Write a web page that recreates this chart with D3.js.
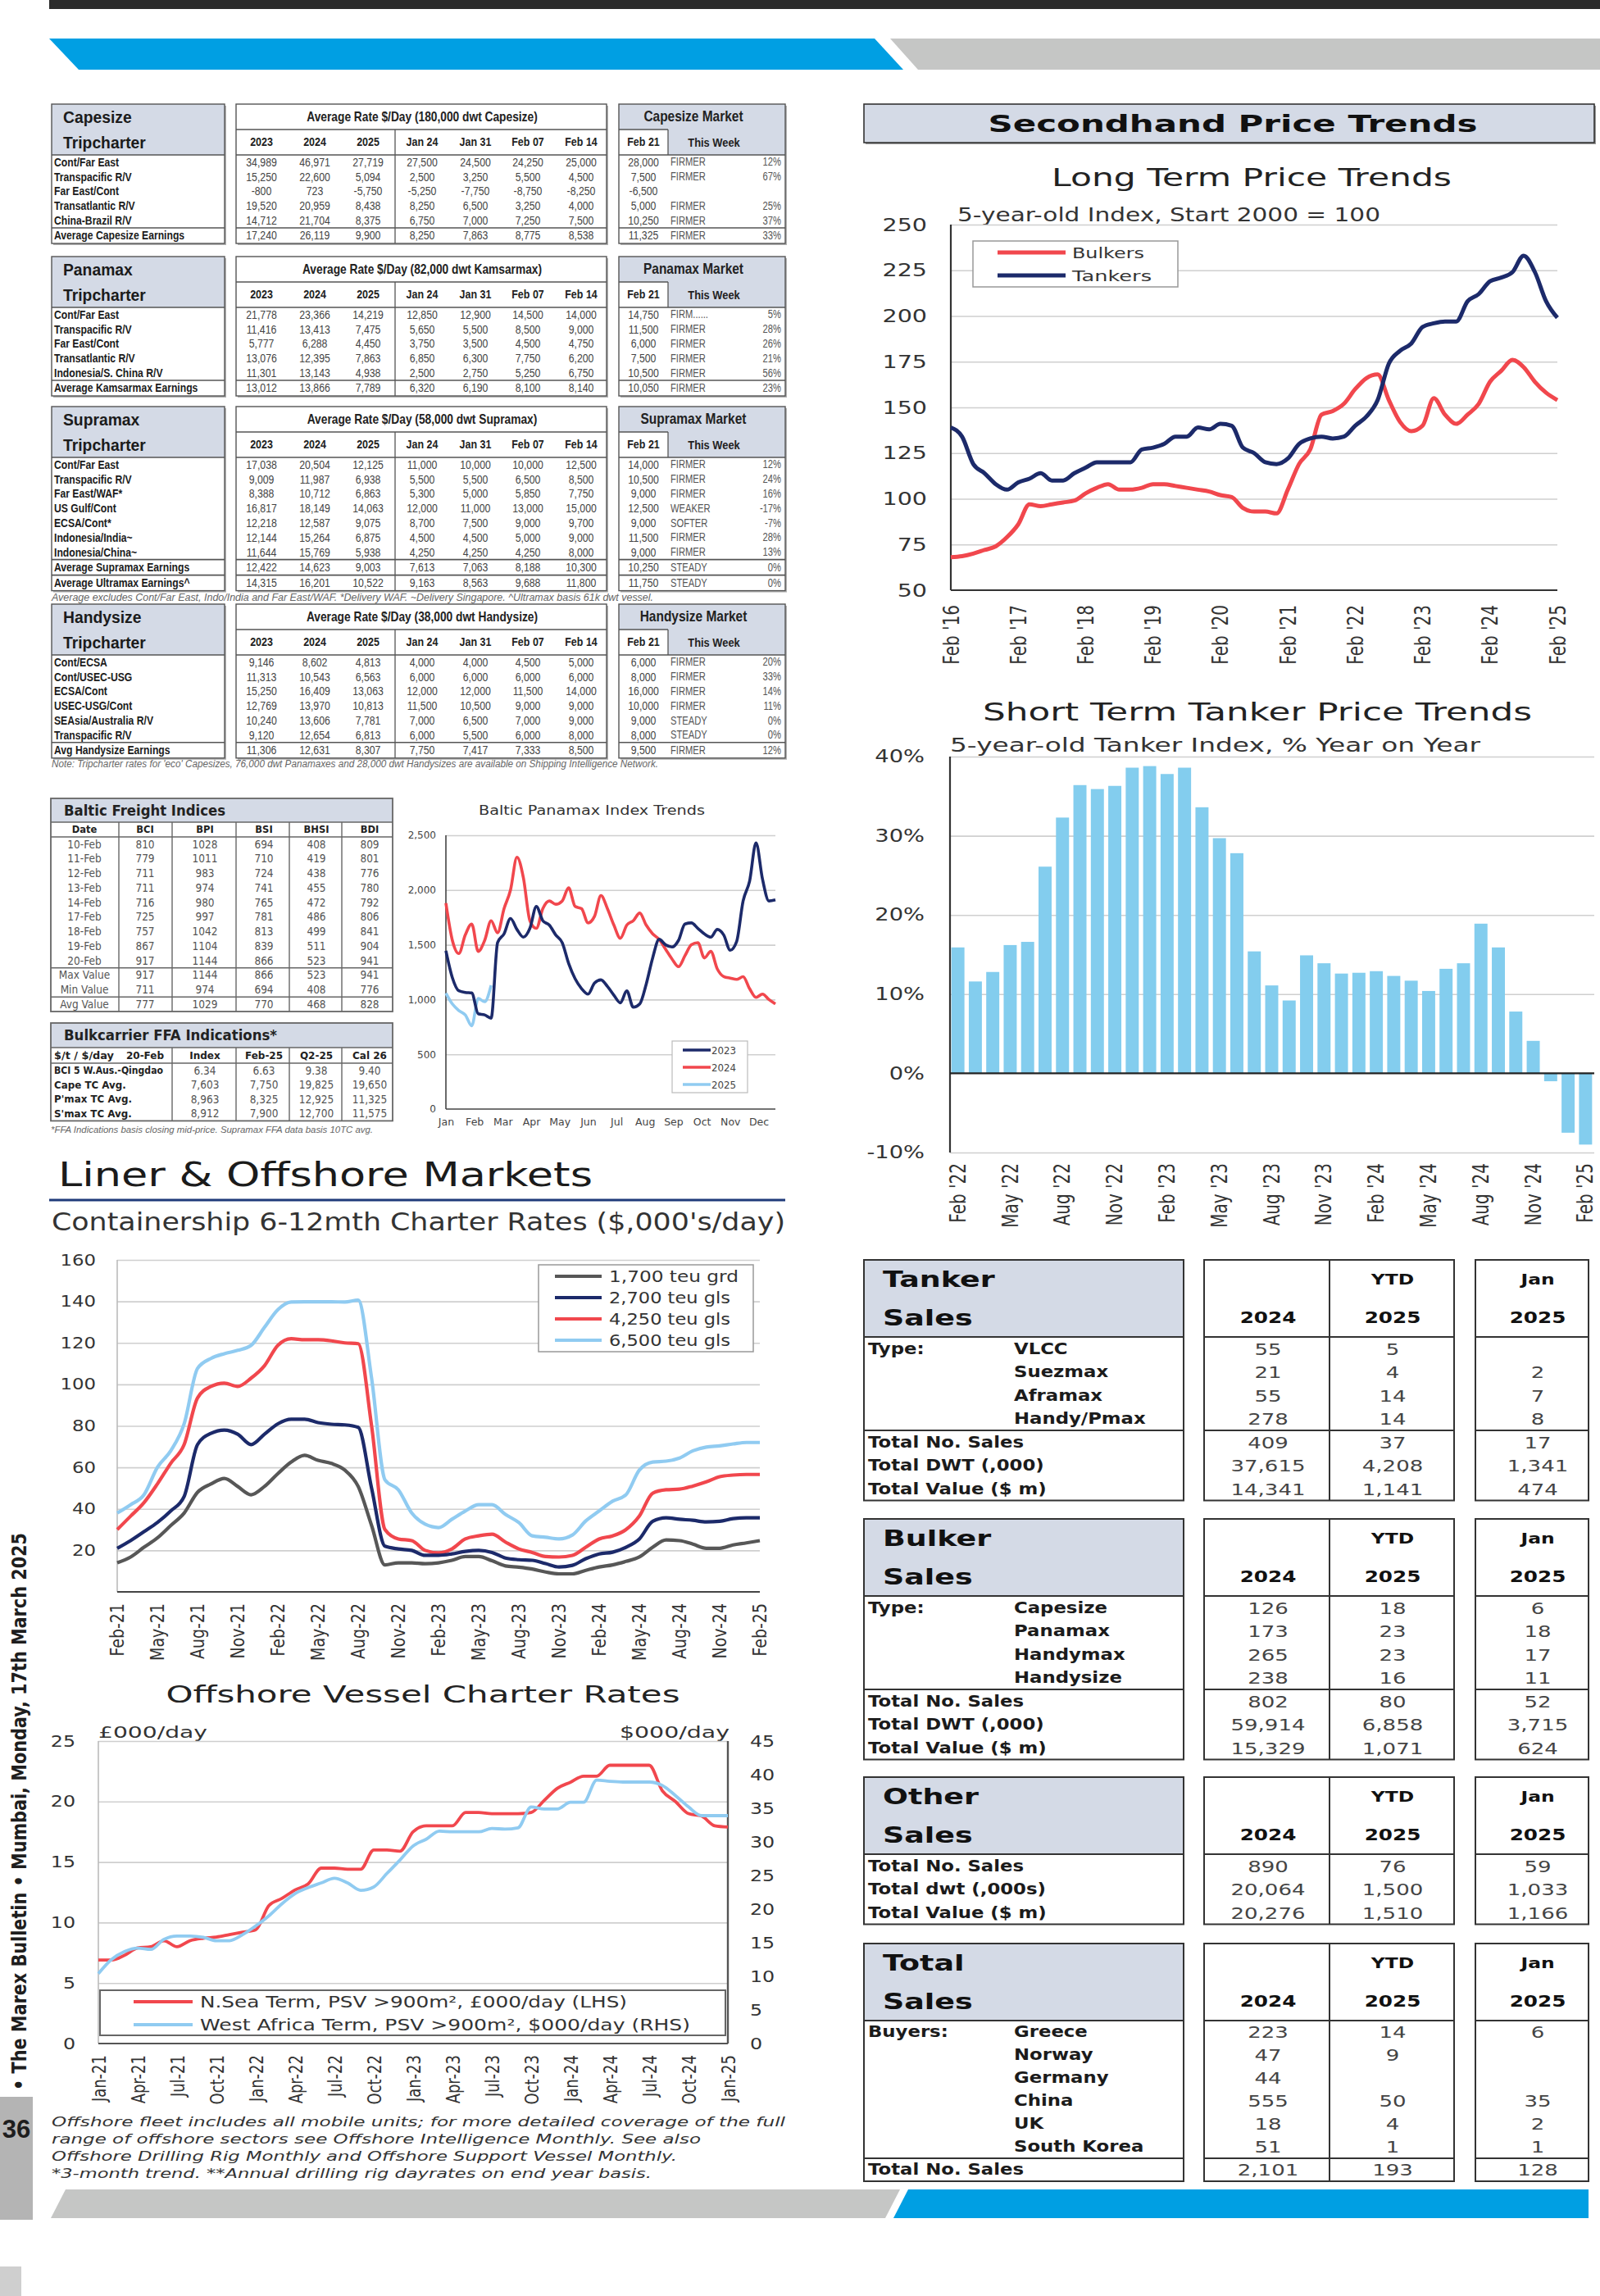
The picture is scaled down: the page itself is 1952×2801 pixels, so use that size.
<!DOCTYPE html>
<html>
<head>
  <meta charset="UTF-8">
  <title>Dry Bulk, Secondhand, Liner & Offshore Markets</title>
  <script src="https://d3js.org/d3.v7.min.js"></script>
  <style>
    body { margin: 0; background: #fff; }
    svg { display: block; }
  </style>
</head>
<body>
<script>
  // ---------- data ----------
  // Tripcharter tables: route, 2023, 2024, 2025, Jan 24, Jan 31, Feb 07, Feb 14, Feb 21, trend, change
  const capeRows = [
    [ "Cont/Far East", 34989, 46971, 27719, 27500, 24500, 24250, 25000, 28000, "FIRMER", "12%" ],
    [ "Transpacific R/V", 15250, 22600, 5094, 2500, 3250, 5500, 4500, 7500, "FIRMER", "67%" ],
    [ "Far East/Cont", -800, 723, -5750, -5250, -7750, -8750, -8250, -6500, "", "" ],
    [ "Transatlantic R/V", 19520, 20959, 8438, 8250, 6500, 3250, 4000, 5000, "FIRMER", "25%" ],
    [ "China-Brazil R/V", 14712, 21704, 8375, 6750, 7000, 7250, 7500, 10250, "FIRMER", "37%" ]
  ];
  const capeAvg = [ [ "Average Capesize Earnings", 17240, 26119, 9900, 8250, 7863, 8775, 8538, 11325, "FIRMER", "33%" ] ];

  const panaRows = [
    [ "Cont/Far East", 21778, 23366, 14219, 12850, 12900, 14500, 14000, 14750, "FIRM......", "5%" ],
    [ "Transpacific R/V", 11416, 13413, 7475, 5650, 5500, 8500, 9000, 11500, "FIRMER", "28%" ],
    [ "Far East/Cont", 5777, 6288, 4450, 3750, 3500, 4500, 4750, 6000, "FIRMER", "26%" ],
    [ "Transatlantic R/V", 13076, 12395, 7863, 6850, 6300, 7750, 6200, 7500, "FIRMER", "21%" ],
    [ "Indonesia/S. China R/V", 11301, 13143, 4938, 2500, 2750, 5250, 6750, 10500, "FIRMER", "56%" ]
  ];
  const panaAvg = [ [ "Average Kamsarmax Earnings", 13012, 13866, 7789, 6320, 6190, 8100, 8140, 10050, "FIRMER", "23%" ] ];

  const supraRows = [
    [ "Cont/Far East", 17038, 20504, 12125, 11000, 10000, 10000, 12500, 14000, "FIRMER", "12%" ],
    [ "Transpacific R/V", 9009, 11987, 6938, 5500, 5500, 6500, 8500, 10500, "FIRMER", "24%" ],
    [ "Far East/WAF*", 8388, 10712, 6863, 5300, 5000, 5850, 7750, 9000, "FIRMER", "16%" ],
    [ "US Gulf/Cont", 16817, 18149, 14063, 12000, 11000, 13000, 15000, 12500, "WEAKER", "-17%" ],
    [ "ECSA/Cont*", 12218, 12587, 9075, 8700, 7500, 9000, 9700, 9000, "SOFTER", "-7%" ],
    [ "Indonesia/India~", 12144, 15264, 6875, 4500, 4500, 5000, 9000, 11500, "FIRMER", "28%" ],
    [ "Indonesia/China~", 11644, 15769, 5938, 4250, 4250, 4250, 8000, 9000, "FIRMER", "13%" ]
  ];
  const supraAvg = [
    [ "Average Supramax Earnings", 12422, 14623, 9003, 7613, 7063, 8188, 10300, 10250, "STEADY", "0%" ],
    [ "Average Ultramax Earnings^", 14315, 16201, 10522, 9163, 8563, 9688, 11800, 11750, "STEADY", "0%" ]
  ];

  const handyRows = [
    [ "Cont/ECSA", 9146, 8602, 4813, 4000, 4000, 4500, 5000, 6000, "FIRMER", "20%" ],
    [ "Cont/USEC-USG", 11313, 10543, 6563, 6000, 6000, 6000, 6000, 8000, "FIRMER", "33%" ],
    [ "ECSA/Cont", 15250, 16409, 13063, 12000, 12000, 11500, 14000, 16000, "FIRMER", "14%" ],
    [ "USEC-USG/Cont", 12769, 13970, 10813, 11500, 10500, 9000, 9000, 10000, "FIRMER", "11%" ],
    [ "SEAsia/Australia R/V", 10240, 13606, 7781, 7000, 6500, 7000, 9000, 9000, "STEADY", "0%" ],
    [ "Transpacific R/V", 9120, 12654, 6813, 6000, 5500, 6000, 8000, 8000, "STEADY", "0%" ]
  ];
  const handyAvg = [ [ "Avg Handysize Earnings", 11306, 12631, 8307, 7750, 7417, 7333, 8500, 9500, "FIRMER", "12%" ] ];

  const rateCols = [ "2023", "2024", "2025", "Jan 24", "Jan 31", "Feb 07", "Feb 14" ];

  // Baltic Freight Indices
  const bfiHeads = [ "Date", "BCI", "BPI", "BSI", "BHSI", "BDI" ];
  const bfiDates = [ "10-Feb", "11-Feb", "12-Feb", "13-Feb", "14-Feb", "17-Feb", "18-Feb", "19-Feb", "20-Feb" ];
  const bfiValues = [
    [ 810, 1028, 694, 408, 809 ], [ 779, 1011, 710, 419, 801 ], [ 711, 983, 724, 438, 776 ],
    [ 711, 974, 741, 455, 780 ], [ 716, 980, 765, 472, 792 ], [ 725, 997, 781, 486, 806 ],
    [ 757, 1042, 813, 499, 841 ], [ 867, 1104, 839, 511, 904 ], [ 917, 1144, 866, 523, 941 ]
  ];
  const bfiMax = [ 917, 1144, 866, 523, 941 ];
  const bfiMin = [ 711, 974, 694, 408, 776 ];
  const bfiAvg = [ 777, 1029, 770, 468, 828 ];

  // FFA indications
  const ffaHeads = [ "Index", "Feb-25", "Q2-25", "Cal 26" ];
  const ffaRows = [
    [ "BCI 5 W.Aus.-Qingdao", "6.34", "6.63", "9.38", "9.40" ],
    [ "Cape TC Avg.", "7,603", "7,750", "19,825", "19,650" ],
    [ "P'max TC Avg.", "8,963", "8,325", "12,925", "11,325" ],
    [ "S'max TC Avg.", "8,912", "7,900", "12,700", "11,575" ]
  ];

  // Baltic Panamax Index, weekly
  const bpi2023 = [ 1446, 1200, 1080, 1065, 1060, 870, 860, 830, 1520, 1600, 1740, 1640, 1570, 1650, 1850, 1720, 1680, 1590, 1520, 1330, 1190, 1100, 1050, 1150, 1180, 1120, 1040, 970, 1080, 930, 960, 1140, 1380, 1550, 1500, 1480, 1540, 1690, 1700, 1650, 1600, 1570, 1640, 1590, 1450, 1530, 1900, 2080, 2430, 2100, 1900, 1910 ];
  const bpi2024 = [ 1880, 1540, 1420, 1590, 1690, 1440, 1540, 1720, 1610, 1830, 2000, 2300, 2110, 1720, 1650, 1830, 1900, 1870, 1900, 2020, 1850, 1830, 1700, 1760, 1950, 1830, 1680, 1560, 1680, 1720, 1790, 1680, 1600, 1550, 1460, 1370, 1300, 1400, 1500, 1520, 1380, 1440, 1280, 1210, 1196, 1184, 1209, 1100, 1020, 1050, 1000, 960 ];
  const bpi2025 = [ 1059, 960, 900, 860, 760, 1010, 980, 1130 ];
  const bpiMonths = [ "Jan", "Feb", "Mar", "Apr", "May", "Jun", "Jul", "Aug", "Sep", "Oct", "Nov", "Dec" ];
  const bpiTicks = [ 0, 500, 1000, 1500, 2000, 2500 ];

  // Long term price trends, every 2 months from Feb '16
  const bulkers = [ 68, 68.6, 70, 72, 74, 79, 86, 97, 96, 97, 98, 99, 103, 106, 108, 105, 105, 106, 108, 108, 107, 106, 105, 104, 102, 101, 95, 93, 93, 92, 105, 119, 127, 146, 148, 152, 160, 166, 168, 154, 142, 137, 140, 155, 146, 141, 146, 152, 164, 170, 176, 172, 164, 158, 154 ];
  const tankers = [ 139, 134, 119, 114, 108, 105, 109, 111, 114, 110, 110, 114, 117, 120, 120, 120, 120, 127, 128, 130, 134, 134, 139, 138, 141, 140, 128, 125, 120, 119, 122, 130, 133, 134, 133, 134, 140, 145, 154, 174, 181, 185, 194, 196, 197, 197, 208, 212, 219, 221, 224, 233, 224, 208, 199 ];
  const longTicks = [ "Feb '16", "Feb '17", "Feb '18", "Feb '19", "Feb '20", "Feb '21", "Feb '22", "Feb '23", "Feb '24", "Feb '25" ];

  // Short term tanker price trend, % y/y monthly Feb '22 - Feb '25
  const tankerYoY = [ 15.9, 11.6, 12.8, 16.2, 16.6, 26.1, 32.3, 36.4, 35.9, 36.3, 38.6, 38.8, 37.8, 38.6, 33.6, 29.7, 27.8, 15.4, 11.1, 9.2, 14.9, 13.9, 12.6, 12.7, 12.9, 12.3, 11.7, 10.4, 13.2, 13.9, 18.9, 15.9, 7.8, 4.1, -1.0, -7.5, -9.0 ];
  const shortTicks = [ "Feb '22", "May '22", "Aug '22", "Nov '22", "Feb '23", "May '23", "Aug '23", "Nov '23", "Feb '24", "May '24", "Aug '24", "Nov '24", "Feb '25" ];

  // Containership 6-12 month rates, monthly Feb-21 - Feb-25
  const teu1700 = [ 14, 16.8, 21.5, 26, 32, 38, 48, 52, 54.7, 50.8, 46.8, 50.8, 57, 62.6, 65.8, 63.4, 61.9, 58.7, 50.8, 32, 13, 14, 14, 13.6, 14, 15.2, 17, 17, 15, 12.5, 11.9, 11, 9.6, 8.7, 8.7, 10.4, 12, 13, 14.7, 16.8, 21.5, 25, 24.7, 23, 21, 21, 22.6, 23.6, 24.7 ];
  const teu2700 = [ 21, 24.7, 29, 33.4, 39, 46, 71, 76.4, 78, 76, 71, 76, 81, 83.2, 83.2, 81.6, 80.8, 80.5, 79.3, 50, 22, 20.7, 20, 17.6, 17.6, 18.3, 19.5, 20, 19, 16.3, 15.5, 15.2, 13.6, 12, 12.8, 16, 18.3, 19.1, 21.5, 25.5, 34, 35.7, 35, 34.5, 33.7, 34, 35.3, 35.7, 35.7 ];
  const teu4250 = [ 30, 36.5, 43, 52, 62, 71, 93.5, 99, 100.6, 99, 103, 109, 118.8, 122, 121.5, 121.5, 121, 120, 119.6, 80, 30, 25.5, 24.7, 20, 18.8, 20.7, 25.5, 27, 27.8, 24, 20.7, 19, 17, 16.8, 17.6, 21.5, 25.5, 27, 30, 36.5, 47.6, 49.2, 49.5, 51, 53, 55.5, 56.3, 56.6, 56.6 ];
  const teu6500 = [ 38, 42, 46.8, 60, 68, 81, 107.7, 112.5, 114.8, 116.4, 118.8, 127.5, 136, 139.7, 139.8, 139.8, 139.8, 139.7, 140.6, 103, 54, 49.2, 38, 32.6, 31, 35, 39, 42, 42, 37.3, 33.4, 27, 26.3, 25.5, 27.4, 34.2, 39, 43.7, 46.8, 58.7, 62.6, 63, 64.5, 68, 69.8, 70.4, 71.3, 72, 72 ];
  const contNames = [ "1,700 teu grd", "2,700 teu gls", "4,250 teu gls", "6,500 teu gls" ];
  const contTicks = [ "Feb-21", "May-21", "Aug-21", "Nov-21", "Feb-22", "May-22", "Aug-22", "Nov-22", "Feb-23", "May-23", "Aug-23", "Nov-23", "Feb-24", "May-24", "Aug-24", "Nov-24", "Feb-25" ];

  // Offshore vessel charter rates, monthly Jan-21 - Jan-25
  const nSea = [ 6.9, 6.9, 7.3, 7.9, 8.0, 8.5, 8.0, 8.5, 8.7, 8.8, 9.0, 9.2, 9.4, 11.4, 12.0, 12.7, 13.2, 14.5, 14.5, 14.4, 14.4, 16.0, 16.0, 15.9, 17.5, 18.0, 18.0, 18.0, 19.1, 19.1, 19.0, 19.0, 19.0, 19.1, 20.1, 21.1, 21.6, 22.1, 22.1, 23.0, 23.0, 23.0, 23.0, 20.9, 20.0, 19.0, 18.8, 18.0, 17.9 ];
  const westAfrica = [ 10.4, 12.5, 13.7, 14.2, 14.0, 15.5, 16.0, 16.0, 15.8, 15.3, 15.3, 16.2, 17.5, 19.0, 20.8, 22.3, 23.2, 23.9, 24.6, 23.9, 22.8, 23.3, 25.3, 27.3, 29.4, 30.4, 31.6, 31.5, 31.5, 31.5, 32.0, 31.9, 32.1, 35.2, 34.9, 34.9, 35.9, 35.9, 39.2, 39.0, 38.9, 38.9, 38.9, 38.4, 36.9, 35.2, 33.9, 33.9, 33.9 ];
  const offTicks = [ "Jan-21", "Apr-21", "Jul-21", "Oct-21", "Jan-22", "Apr-22", "Jul-22", "Oct-22", "Jan-23", "Apr-23", "Jul-23", "Oct-23", "Jan-24", "Apr-24", "Jul-24", "Oct-24", "Jan-25" ];
  const offNotes = [
    "Offshore fleet includes all mobile units; for more detailed coverage of the full",
    "range of offshore sectors see Offshore Intelligence Monthly. See also",
    "Offshore Drilling Rig Monthly and Offshore Support Vessel Monthly.",
    "*3-month trend. **Annual drilling rig dayrates on end year basis."
  ];

  // Sales tables: prefix, name, 2024, YTD 2025, Jan 2025
  const tankerTypes = [ [ "Type:", "VLCC", 55, 5, null ], [ "", "Suezmax", 21, 4, 2 ], [ "", "Aframax", 55, 14, 7 ], [ "", "Handy/Pmax", 278, 14, 8 ] ];
  const tankerTotals = [ [ "Total No. Sales", "", 409, 37, 17 ], [ "Total DWT (,000)", "", 37615, 4208, 1341 ], [ "Total Value ($ m)", "", 14341, 1141, 474 ] ];
  const bulkerTypes = [ [ "Type:", "Capesize", 126, 18, 6 ], [ "", "Panamax", 173, 23, 18 ], [ "", "Handymax", 265, 23, 17 ], [ "", "Handysize", 238, 16, 11 ] ];
  const bulkerTotals = [ [ "Total No. Sales", "", 802, 80, 52 ], [ "Total DWT (,000)", "", 59914, 6858, 3715 ], [ "Total Value ($ m)", "", 15329, 1071, 624 ] ];
  const otherTotals = [ [ "Total No. Sales", "", 890, 76, 59 ], [ "Total dwt (,000s)", "", 20064, 1500, 1033 ], [ "Total Value ($ m)", "", 20276, 1510, 1166 ] ];
  const buyers = [ [ "Buyers:", "Greece", 223, 14, 6 ], [ "", "Norway", 47, 9, null ], [ "", "Germany", 44, null, null ], [ "", "China", 555, 50, 35 ], [ "", "UK", 18, 4, 2 ], [ "", "South Korea", 51, 1, 1 ] ];
  const buyerTotal = [ [ "Total No. Sales", "", 2101, 193, 128 ] ];

  // ---------- setup ----------
  const W = 1952, H = 2801;
  const GOTH = "'DejaVu Sans', Verdana, sans-serif";
  const ARIAL = "'Liberation Sans', Arial, Helvetica, sans-serif";
  const COND = "'Liberation Sans Narrow', 'DejaVu Sans Condensed', 'Liberation Sans', sans-serif";
  const NAVY = "#1c2a6a", RED = "#f1474d", SKY = "#90cbf1", DARKGREY = "#575757", BAR = "#83cdee";
  const HEAD = "#d4dae6", BLUE = "#009fe3", RIBBON = "#c5c6c5", GRID = "#cfcfcf";

  const svg = d3.select( "body" ).append( "svg" ).attr( "width", W ).attr( "height", H );
  svg.append( "rect" ).attr( "width", W ).attr( "height", H ).attr( "fill", "#fff" );

  const num = d3.format( "," );
  const fmt = v => ( v === null || v === "" ) ? "" : ( v < 0 ? "-" : "" ) + num( Math.abs( v ) );

  function label( g, x, y, s, o = {} ) {
    let tf = `translate(${x},${y})`;
    if ( o.rot ) tf += ` rotate(${o.rot})`;
    if ( o.sx || o.sy ) tf += ` scale(${o.sx || 1},${o.sy || 1})`;
    const t = g.append( "text" ).attr( "transform", tf )
      .attr( "font-family", o.font || GOTH )
      .attr( "font-size", o.size || 14 )
      .attr( "font-weight", o.bold ? "bold" : "normal" )
      .attr( "font-style", o.italic ? "italic" : "normal" )
      .attr( "text-anchor", o.anchor || "start" )
      .attr( "dominant-baseline", "central" )
      .attr( "fill", o.fill || "#222" )
      .text( s );
    if ( o.len ) t.attr( "textLength", o.len ).attr( "lengthAdjust", "spacingAndGlyphs" );
    return t;
  }

  function line( g, x1, y1, x2, y2, stroke, w ) {
    return g.append( "line" ).attr( "x1", x1 ).attr( "y1", y1 ).attr( "x2", x2 ).attr( "y2", y2 )
      .attr( "stroke", stroke || "#555" ).attr( "stroke-width", w || 1.3 );
  }

  function box( g, x0, y0, x1, y1, fill, stroke, w ) {
    return g.append( "rect" ).attr( "x", x0 ).attr( "y", y0 ).attr( "width", x1 - x0 ).attr( "height", y1 - y0 )
      .attr( "fill", fill || "none" ).attr( "stroke", stroke || "none" ).attr( "stroke-width", w || 0 );
  }

  // style d3 axis tick labels
  function ticks( a, o ) {
    a.select( ".domain" ).remove();
    a.selectAll( ".tick line" ).remove();
    const t = a.selectAll( ".tick text" ).attr( "font-family", o.font || GOTH ).attr( "font-size", o.size ).attr( "fill", o.fill || "#333" );
    if ( o.sx ) t.attr( "x", function () { return +d3.select( this ).attr( "x" ) / o.sx; } ).attr( "transform", `scale(${o.sx},1)` );
    if ( o.rot ) t.attr( "transform", `rotate(-90) scale(1,${o.sy || 1})` ).attr( "text-anchor", "end" )
      .attr( "x", -o.rot ).attr( "y", 0 ).attr( "dy", "0.35em" );
  }

  function grid( g, scale, values, x0, x1 ) {
    g.append( "g" ).attr( "transform", `translate(${x0},0)` )
      .call( d3.axisLeft( scale ).tickValues( values ).tickSize( -( x1 - x0 ) ).tickFormat( "" ) )
      .call( a => { a.select( ".domain" ).remove(); a.selectAll( ".tick line" ).attr( "stroke", GRID ).attr( "stroke-width", 1.6 ); } );
  }

  function path( g, data, x, y, color, w ) {
    g.append( "path" ).datum( data )
      .attr( "d", d3.line().x( ( d, i ) => x( i ) ).y( d => y( d ) ).curve( d3.curveMonotoneX ) )
      .attr( "fill", "none" ).attr( "stroke", color ).attr( "stroke-width", w ).attr( "stroke-linejoin", "round" );
  }

  // ---------- page furniture ----------
  svg.append( "rect" ).attr( "x", 60 ).attr( "y", 0 ).attr( "width", W - 60 ).attr( "height", 11 ).attr( "fill", "#2b2b2b" );
  const ribbon = ( pts, fill ) => svg.append( "polygon" ).attr( "points", pts.map( p => p.join( "," ) ).join( " " ) ).attr( "fill", fill );
  ribbon( [ [ 60, 47 ], [ 1067, 47 ], [ 1102, 85 ], [ 96, 85 ] ], BLUE );
  ribbon( [ [ 1086, 47 ], [ 1952, 47 ], [ 1952, 85 ], [ 1120, 85 ] ], RIBBON );
  ribbon( [ [ 62, 2706 ], [ 80, 2671 ], [ 1098, 2671 ], [ 1080, 2706 ] ], RIBBON );
  ribbon( [ [ 1090, 2706 ], [ 1108, 2671 ], [ 1938, 2671 ], [ 1938, 2706 ] ], BLUE );
  svg.append( "rect" ).attr( "x", 0 ).attr( "y", 2765 ).attr( "width", 26 ).attr( "height", 36 ).attr( "fill", "#cfcfcf" );
  svg.append( "rect" ).attr( "x", 0 ).attr( "y", 2558 ).attr( "width", 40 ).attr( "height", 150 ).attr( "fill", "#b4b4b4" );
  label( svg, 20, 2597, "36", { font: ARIAL, size: 31, bold: true, anchor: "middle", fill: "#1e1e1e" } );
  label( svg, 23, 2550, "\u2022 The Marex Bulletin \u2022 Mumbai, Monday, 17th March 2025",
    { font: COND, size: 25, bold: true, rot: -90, len: 680, fill: "#1e1e1e" } );

  // ---------- tripcharter tables ----------
  const rateX = [ 319, 384, 449, 515, 580, 644, 709 ];

  function rateTable( top, name, title, market, rows, avg ) {
    const g = svg.append( "g" );
    const th = 31, hdr = 62, rh = 17.8, ah = 19;
    const bodyTop = top + hdr, sepY = bodyTop + rows.length * rh, bottom = sepY + avg.length * ah;
    const boxes = [ [ 63, 274 ], [ 288, 740 ], [ 755, 958 ] ];
    boxes.forEach( ( [ a, b ] ) => box( g, a + 2, top + 2, b + 2, bottom + 2, "#b3b3b3" ) );
    boxes.forEach( ( [ a, b ] ) => box( g, a, top, b, bottom, "#fff" ) );
    box( g, 63, top, 274, bodyTop, HEAD );
    box( g, 755, top, 958, top + th, HEAD );
    box( g, 815, top + th, 958, bodyTop, HEAD );
    boxes.forEach( ( [ a, b ] ) => {
      line( g, a, bodyTop, b, bodyTop, "#555", 1.6 );
      avg.forEach( ( r, i ) => line( g, a, sepY + i * ah, b, sepY + i * ah, "#555", 1.6 ) );
    } );
    line( g, 288, top + th, 740, top + th );
    line( g, 755, top + th, 815, top + th );
    line( g, 482, top + th, 482, bottom );
    line( g, 815, top + th, 815, bodyTop );
    boxes.forEach( ( [ a, b ] ) => box( g, a, top, b, bottom, "none", "#555", 1.4 ) );

    label( g, 77, top + 16, name, { font: ARIAL, size: 21, bold: true, fill: "#1b1b1b", sx: 0.92 } );
    label( g, 77, top + 47, "Tripcharter", { font: ARIAL, size: 21, bold: true, fill: "#1b1b1b", sx: 0.92 } );
    label( g, 515, top + 15.5, title, { font: ARIAL, size: 16, bold: true, anchor: "middle", sx: 0.86 } );
    rateCols.forEach( ( c, j ) => label( g, rateX[ j ], top + 46.5, c, { font: ARIAL, size: 14.5, bold: true, anchor: "middle", sx: 0.86 } ) );
    label( g, 846, top + 15.5, market, { font: ARIAL, size: 18, bold: true, anchor: "middle", sx: 0.86 } );
    label( g, 785, top + 46.5, "Feb 21", { font: ARIAL, size: 14.5, bold: true, anchor: "middle", sx: 0.86 } );
    label( g, 871, top + 46.5, "This Week", { font: ARIAL, size: 15, bold: true, anchor: "middle", sx: 0.86 } );

    const all = rows.concat( avg );
    all.forEach( ( r, i ) => {
      const y = i < rows.length ? bodyTop + rh * ( i + 0.5 ) : sepY + ah * ( i - rows.length + 0.5 );
      label( g, 66, y, r[ 0 ], { font: ARIAL, size: 14.5, bold: true, sx: 0.84, fill: "#1b1b1b" } );
      r.slice( 1, 8 ).forEach( ( v, j ) => label( g, rateX[ j ], y, fmt( v ), { font: ARIAL, size: 15, anchor: "middle", fill: "#444", sx: 0.82 } ) );
      label( g, 785, y, fmt( r[ 8 ] ), { font: ARIAL, size: 15, anchor: "middle", fill: "#444", sx: 0.82 } );
      label( g, 818, y, r[ 9 ], { font: ARIAL, size: 14, fill: "#555", sx: 0.8 } );
      label( g, 953, y, r[ 10 ], { font: ARIAL, size: 14, anchor: "end", fill: "#555", sx: 0.8 } );
    } );
    return bottom;
  }

  rateTable( 127, "Capesize", "Average Rate $/Day (180,000 dwt Capesize)", "Capesize Market", capeRows, capeAvg );
  rateTable( 313, "Panamax", "Average Rate $/Day (82,000 dwt Kamsarmax)", "Panamax Market", panaRows, panaAvg );
  rateTable( 496, "Supramax", "Average Rate $/Day (58,000 dwt Supramax)", "Supramax Market", supraRows, supraAvg );
  rateTable( 737, "Handysize", "Average Rate $/Day (38,000 dwt Handysize)", "Handysize Market", handyRows, handyAvg );
  label( svg, 63, 729, "Average excludes Cont/Far East, Indo/India and Far East/WAF. *Delivery WAF. ~Delivery Singapore. ^Ultramax basis 61k dwt vessel.",
    { font: ARIAL, size: 12, italic: true, fill: "#666", len: 734 } );
  label( svg, 63, 932, "Note: Tripcharter rates for 'eco' Capesizes, 76,000 dwt Panamaxes and 28,000 dwt Handysizes are available on Shipping Intelligence Network.",
    { font: ARIAL, size: 12, italic: true, fill: "#666", len: 740 } );

  // ---------- Baltic freight indices ----------
  {
    const g = svg.append( "g" );
    const x0 = 62, x1 = 479, top = 974, titleB = 1003, headB = 1021, rh = 17.75;
    const cols = [ 103, 177, 250, 322, 386, 451 ];
    const sep1 = headB + bfiDates.length * rh, sep2 = sep1 + 2 * rh, bottom = sep2 + rh;
    box( g, x0, top, x1, bottom, "#fff" );
    box( g, x0, top, x1, titleB, HEAD );
    line( g, x0, titleB, x1, titleB, "#666", 1.6 );
    line( g, x0, headB, x1, headB, "#666", 1.6 );
    line( g, x0, sep1, x1, sep1, "#666", 1.6 );
    line( g, x0, sep2, x1, sep2, "#666", 1.6 );
    [ 145, 210, 288, 353, 417 ].forEach( x => line( g, x, titleB, x, bottom, "#666", 1.4 ) );
    box( g, x0, top, x1, bottom, "none", "#666", 1.8 );
    label( g, 78, 989, "Baltic Freight Indices", { size: 17, bold: true, len: 197 } );
    bfiHeads.forEach( ( h, j ) => label( g, cols[ j ], ( titleB + headB ) / 2, h, { size: 11.5, bold: true, anchor: "middle" } ) );
    const body = bfiDates.map( ( d, i ) => [ d ].concat( bfiValues[ i ] ) )
      .concat( [ [ "Max Value" ].concat( bfiMax ), [ "Min Value" ].concat( bfiMin ), [ "Avg Value" ].concat( bfiAvg ) ] );
    body.forEach( ( r, i ) => {
      const y = headB + rh * ( i + 0.5 );
      r.forEach( ( v, j ) => label( g, cols[ j ], y, j ? fmt( v ).replace( ",", "" ) : v, { size: 13.5, anchor: "middle", fill: "#555", sx: 0.9 } ) );
    } );
  }

  // ---------- Bulkcarrier FFA ----------
  {
    const g = svg.append( "g" );
    const x0 = 62, x1 = 479, top = 1248, titleB = 1278, headB = 1297, rh = 17.6;
    const cols = [ 250, 322, 386, 451 ];
    const bottom = headB + ffaRows.length * rh;
    box( g, x0, top, x1, bottom, "#fff" );
    box( g, x0, top, x1, titleB, HEAD );
    line( g, x0, titleB, x1, titleB, "#666", 1.6 );
    line( g, x0, headB, x1, headB, "#666", 1.6 );
    [ 210, 288, 353, 417 ].forEach( x => line( g, x, titleB, x, bottom, "#666", 1.4 ) );
    box( g, x0, top, x1, bottom, "none", "#666", 1.8 );
    label( g, 78, 1263, "Bulkcarrier FFA Indications*", { size: 17, bold: true, len: 260 } );
    label( g, 66, ( titleB + headB ) / 2, "$/t / $/day", { size: 12, bold: true, len: 73 } );
    label( g, 177, ( titleB + headB ) / 2, "20-Feb", { size: 12, bold: true, anchor: "middle" } );
    ffaHeads.forEach( ( h, j ) => label( g, cols[ j ], ( titleB + headB ) / 2, h, { size: 12, bold: true, anchor: "middle" } ) );
    ffaRows.forEach( ( r, i ) => {
      const y = headB + rh * ( i + 0.5 );
      label( g, 66, y, r[ 0 ], { size: 12.5, bold: true, sx: i ? 0.95 : 0.87 } );
      r.slice( 1 ).forEach( ( v, j ) => label( g, cols[ j ], y, v, { size: 13.5, anchor: "middle", fill: "#555", sx: 0.9 } ) );
    } );
    label( svg, 62, 1378, "*FFA Indications basis closing mid-price. Supramax FFA data basis 10TC avg.",
      { font: ARIAL, size: 10, italic: true, fill: "#666", len: 393 } );
  }

  // ---------- Baltic Panamax Index Trends ----------
  {
    const g = svg.append( "g" );
    const x = d3.scaleLinear().domain( [ 0, 51 ] ).range( [ 544, 946 ] );
    const y = d3.scaleLinear().domain( [ 0, 2500 ] ).range( [ 1353, 1019 ] );
    label( g, 722, 989, "Baltic Panamax Index Trends", { size: 15.5, anchor: "middle", fill: "#333", len: 276 } );
    grid( g, y, bpiTicks.slice( 1 ), 544, 946 );
    g.append( "g" ).attr( "transform", "translate(544,0)" )
      .call( d3.axisLeft( y ).tickValues( bpiTicks ).tickFormat( num ).tickSize( 0 ).tickPadding( 12 ) )
      .call( a => ticks( a, { size: 12, fill: "#444" } ) );
    g.append( "g" ).attr( "transform", "translate(0,1353)" )
      .call( d3.axisBottom( x ).tickValues( bpiMonths.map( ( m, i ) => i * 4.4 ) ).tickFormat( ( d, i ) => bpiMonths[ i ] ).tickSize( 0 ).tickPadding( 11 ) )
      .call( a => ticks( a, { size: 12.5, fill: "#444" } ) );
    line( g, 544, 1019, 544, 1353, "#444", 1.6 );
    line( g, 544, 1353, 946, 1353, "#444", 1.6 );
    path( g, bpi2024, x, y, RED, 3.6 );
    path( g, bpi2025, x, y, SKY, 3.6 );
    path( g, bpi2023, x, y, NAVY, 3.6 );
    box( g, 820, 1270, 912, 1333, "#fff", "#bbb", 1.2 );
    [ [ "2023", NAVY ], [ "2024", RED ], [ "2025", SKY ] ].forEach( ( [ t, c ], i ) => {
      line( g, 833, 1281 + i * 21, 867, 1281 + i * 21, c, 3.6 );
      label( g, 868, 1281 + i * 21, t, { size: 12.5, fill: "#444", len: 30 } );
    } );
  }

  // ---------- Secondhand price trends ----------
  {
    const g = svg.append( "g" );
    box( g, 1056, 129, 1947, 176, "#9a9a9a" );
    box( g, 1054, 127, 1945, 174, HEAD, "#333", 1.6 );
    label( g, 1504, 151, "Secondhand Price Trends", { size: 28, bold: true, anchor: "middle", fill: "#111", len: 597 } );
    label( g, 1527, 216, "Long Term Price Trends", { size: 31, anchor: "middle", fill: "#222", len: 488 } );
    label( g, 1168, 262, "5-year-old Index, Start 2000 = 100", { size: 23, fill: "#333", len: 516 } );

    const x = d3.scaleLinear().domain( [ 0, 108 ] ).range( [ 1160, 1900 ] );
    const y = d3.scaleLinear().domain( [ 50, 250 ] ).range( [ 720, 274 ] );
    const yt = d3.range( 50, 251, 25 );
    grid( g, y, yt.slice( 1 ), 1160, 1900 );
    g.append( "g" ).attr( "transform", "translate(1160,0)" )
      .call( d3.axisLeft( y ).tickValues( yt ).tickSize( 0 ).tickPadding( 29 ) )
      .call( a => ticks( a, { size: 22, sx: 1.3 } ) );
    g.append( "g" ).attr( "transform", "translate(0,720)" )
      .call( d3.axisBottom( x ).tickValues( d3.range( 0, 109, 12 ) ).tickFormat( ( d, i ) => longTicks[ i ] ).tickSize( 0 ) )
      .call( a => ticks( a, { size: 20, rot: 18, sy: 1.3 } ) );
    line( g, 1160, 274, 1160, 720, "#333", 2.2 );
    line( g, 1160, 720, 1900, 720, "#333", 2.2 );
    const xm = i => x( i * 2 );
    path( g, bulkers, xm, y, RED, 5 );
    path( g, tankers, xm, y, NAVY, 5 );
    box( g, 1187, 294, 1437, 350, "#fff", "#999", 1.5 );
    [ [ "Bulkers", RED, 88 ], [ "Tankers", NAVY, 97 ] ].forEach( ( [ t, c, l ], i ) => {
      line( g, 1217, 308 + i * 28, 1300, 308 + i * 28, c, 5 );
      label( g, 1308, 308 + i * 28, t, { size: 18, fill: "#333", len: l } );
    } );
  }

  // ---------- Short term tanker price trends ----------
  {
    const g = svg.append( "g" );
    label( g, 1534, 868, "Short Term Tanker Price Trends", { size: 31, anchor: "middle", fill: "#222", len: 670 } );
    label( g, 1159, 909, "5-year-old Tanker Index, % Year on Year", { size: 23, fill: "#333", len: 647 } );
    const x = d3.scaleBand().domain( d3.range( tankerYoY.length ) ).range( [ 1158, 1945 ] ).paddingInner( 0.25 ).paddingOuter( 0.125 );
    const y = d3.scaleLinear().domain( [ -10, 40 ] ).range( [ 1406, 923 ] );
    grid( g, y, [ -10, 10, 20, 30, 40 ], 1159, 1945 );
    g.append( "g" ).attr( "transform", "translate(1159,0)" )
      .call( d3.axisLeft( y ).tickValues( d3.range( -10, 41, 10 ) ).tickFormat( d => d + "%" ).tickSize( 0 ).tickPadding( 31 ) )
      .call( a => ticks( a, { size: 21, sx: 1.3 } ) );
    g.selectAll( ".bar" ).data( tankerYoY ).enter().append( "rect" )
      .attr( "x", ( d, i ) => x( i ) ).attr( "width", x.bandwidth() )
      .attr( "y", d => y( Math.max( 0, d ) ) ).attr( "height", d => Math.abs( y( d ) - y( 0 ) ) )
      .attr( "fill", BAR );
    g.append( "g" ).attr( "transform", "translate(0,1406)" )
      .call( d3.axisBottom( x ).tickValues( d3.range( 0, 37, 3 ) ).tickFormat( ( d, i ) => shortTicks[ i ] ).tickSize( 0 ) )
      .call( a => ticks( a, { size: 20, rot: 13, sy: 1.3 } ) );
    line( g, 1159, 923, 1159, 1406, "#333", 2.2 );
    line( g, 1159, y( 0 ), 1945, y( 0 ), "#222", 2.2 );
  }

  // ---------- Liner & Offshore: containership rates ----------
  {
    const g = svg.append( "g" );
    label( g, 71, 1433, "Liner & Offshore Markets", { size: 41, fill: "#1b1b1b", len: 652 } );
    line( g, 60, 1464, 958, 1464, "#1f3a7a", 3 );
    label( g, 63, 1490, "Containership 6-12mth Charter Rates ($,000's/day)", { size: 30, fill: "#333", len: 895 } );

    const x = d3.scaleLinear().domain( [ 0, 48 ] ).range( [ 143, 927 ] );
    const y = d3.scaleLinear().domain( [ 0, 160 ] ).range( [ 1942, 1537 ] );
    grid( g, y, d3.range( 20, 161, 20 ), 143, 927 );
    g.append( "g" ).attr( "transform", "translate(143,0)" )
      .call( d3.axisLeft( y ).tickValues( d3.range( 20, 161, 20 ) ).tickSize( 0 ).tickPadding( 26 ) )
      .call( a => ticks( a, { size: 19, sx: 1.2 } ) );
    g.append( "g" ).attr( "transform", "translate(0,1942)" )
      .call( d3.axisBottom( x ).tickValues( d3.range( 0, 49, 3 ) ).tickFormat( ( d, i ) => contTicks[ i ] ).tickSize( 0 ) )
      .call( a => ticks( a, { size: 19, rot: 14, sy: 1.2 } ) );
    line( g, 143, 1537, 143, 1942, "#bbb", 1.6 );
    line( g, 143, 1942, 927, 1942, "#444", 1.8 );
    const series = [ [ teu1700, DARKGREY ], [ teu2700, NAVY ], [ teu4250, RED ], [ teu6500, SKY ] ];
    [ 3, 2, 1, 0 ].forEach( k => path( g, series[ k ][ 0 ], x, y, series[ k ][ 1 ], 4.2 ) );
    box( g, 657, 1543, 919, 1649, "#fff", "#999", 1.5 );
    contNames.forEach( ( t, i ) => {
      line( g, 677, 1557 + i * 26, 734, 1557 + i * 26, series[ i ][ 1 ], 4.2 );
      label( g, 743, 1557 + i * 26, t, { size: 19, fill: "#333", len: i ? 148 : 158 } );
    } );
  }

  // ---------- Offshore vessel charter rates ----------
  {
    const g = svg.append( "g" );
    label( g, 516, 2067, "Offshore Vessel Charter Rates", { size: 29, anchor: "middle", fill: "#222", len: 627 } );
    label( g, 120, 2113, "\u00a3000/day", { size: 19, fill: "#333", len: 133 } );
    label( g, 890, 2113, "$000/day", { size: 19, anchor: "end", fill: "#333", len: 134 } );
    const x = d3.scaleLinear().domain( [ 0, 48 ] ).range( [ 120, 888 ] );
    const yL = d3.scaleLinear().domain( [ 0, 25 ] ).range( [ 2493, 2124 ] );
    const yR = d3.scaleLinear().domain( [ 0, 45 ] ).range( [ 2493, 2124 ] );
    grid( g, yL, [ 5, 10, 15, 20, 25 ], 120, 888 );
    g.append( "g" ).attr( "transform", "translate(120,0)" )
      .call( d3.axisLeft( yL ).tickValues( d3.range( 0, 26, 5 ) ).tickSize( 0 ).tickPadding( 28 ) )
      .call( a => ticks( a, { size: 19, sx: 1.25 } ) );
    g.append( "g" ).attr( "transform", "translate(888,0)" )
      .call( d3.axisRight( yR ).tickValues( d3.range( 0, 46, 5 ) ).tickSize( 0 ).tickPadding( 27 ) )
      .call( a => ticks( a, { size: 19, sx: 1.25 } ) );
    g.append( "g" ).attr( "transform", "translate(0,2493)" )
      .call( d3.axisBottom( x ).tickValues( d3.range( 0, 49, 3 ) ).tickFormat( ( d, i ) => offTicks[ i ] ).tickSize( 0 ) )
      .call( a => ticks( a, { size: 18, rot: 14, sy: 1.3 } ) );
    line( g, 120, 2124, 120, 2493, "#bbb", 1.6 );
    line( g, 888, 2124, 888, 2493, "#555", 2.4 );
    line( g, 120, 2493, 888, 2493, "#555", 2.2 );
    path( g, nSea, x, yL, RED, 3.8 );
    path( g, westAfrica, x, yR, SKY, 3.8 );
    box( g, 122, 2428, 885, 2483, "#fff", "#666", 2 );
    line( g, 163, 2442, 235, 2442, RED, 4 );
    label( g, 244, 2442, "N.Sea Term, PSV >900m\u00b2, \u00a3000/day (LHS)", { size: 19, fill: "#333", len: 521 } );
    line( g, 163, 2470, 235, 2470, SKY, 4 );
    label( g, 244, 2470, "West Africa Term, PSV >900m\u00b2, $000/day (RHS)", { size: 19, fill: "#333", len: 598 } );
    const lens = [ 895, 792, 763, 732 ];
    offNotes.forEach( ( t, i ) => label( g, 63, 2588 + i * 21, t, { size: 16, italic: true, fill: "#333", len: lens[ i ] } ) );
  }

  // ---------- Sales tables ----------
  const salesX = [ 1547, 1699, 1876 ];

  function salesTable( top, name, groups, rh ) {
    const g = svg.append( "g" );
    const hdr = 94, bodyTop = top + hdr;
    const n = groups.reduce( ( s, gr ) => s + gr.length, 0 );
    const bottom = bodyTop + n * rh;
    const boxes = [ [ 1054, 1444 ], [ 1469, 1774 ], [ 1800, 1938 ] ];
    boxes.forEach( ( [ a, b ] ) => box( g, a, top, b, bottom, "#fff" ) );
    box( g, 1054, top, 1444, bodyTop, HEAD );
    let yy = bodyTop;
    boxes.forEach( ( [ a, b ] ) => line( g, a, bodyTop, b, bodyTop, "#333", 2 ) );
    groups.slice( 0, -1 ).forEach( gr => {
      yy += gr.length * rh;
      boxes.forEach( ( [ a, b ] ) => line( g, a, yy, b, yy, "#333", 2 ) );
    } );
    line( g, 1622, top, 1622, bottom, "#333", 2 );
    boxes.forEach( ( [ a, b ] ) => box( g, a, top, b, bottom, "none", "#333", 2 ) );

    label( g, 1077, top + 24, name, { size: 27, bold: true, sx: 1.35, fill: "#111" } );
    label( g, 1077, top + 71, "Sales", { size: 27, bold: true, sx: 1.35, fill: "#111" } );
    label( g, 1699, top + 24, "YTD", { size: 18, bold: true, anchor: "middle", sx: 1.3, fill: "#111" } );
    label( g, 1876, top + 24, "Jan", { size: 18, bold: true, anchor: "middle", sx: 1.3, fill: "#111" } );
    [ "2024", "2025", "2025" ].forEach( ( t, j ) => label( g, salesX[ j ], top + 71, t, { size: 19, bold: true, anchor: "middle", sx: 1.3, fill: "#111" } ) );

    let i = 0;
    groups.forEach( gr => gr.forEach( r => {
      const y = bodyTop + rh * ( i + 0.5 );
      label( g, 1059, y, r[ 0 ], { size: 19, bold: true, sx: 1.2, fill: "#1b1b1b" } );
      if ( r[ 1 ] ) label( g, 1237, y, r[ 1 ], { size: 19, bold: true, sx: 1.2, fill: "#1b1b1b" } );
      r.slice( 2 ).forEach( ( v, j ) => label( g, salesX[ j ], y, fmt( v ), { size: 20, anchor: "middle", fill: "#444", sx: 1.3 } ) );
      i++;
    } ) );
  }

  salesTable( 1537, "Tanker", [ tankerTypes, tankerTotals ], 28.5 );
  salesTable( 1853, "Bulker", [ bulkerTypes, bulkerTotals ], 28.5 );
  salesTable( 2168, "Other", [ otherTotals ], 28.5 );
  salesTable( 2371, "Total", [ buyers, buyerTotal ], 28 );
</script>
</body>
</html>
